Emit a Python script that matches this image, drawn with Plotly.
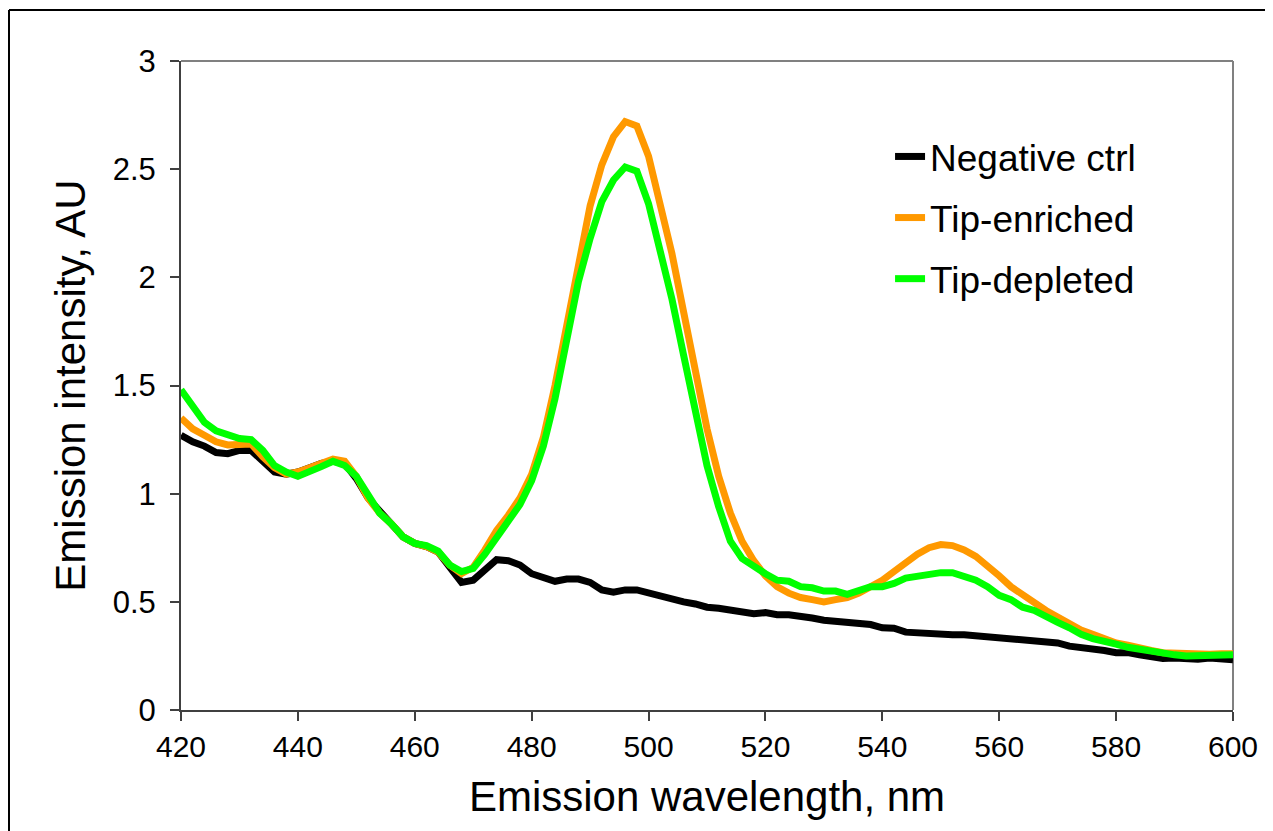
import plotly.graph_objects as go

wavelength = list(range(420, 601, 2))

negative_ctrl = [1.27, 1.24, 1.22, 1.19, 1.185, 1.20, 1.20, 1.15, 1.10, 1.09,
                 1.10, 1.12, 1.14, 1.15, 1.14, 1.07, 0.98, 0.92, 0.86, 0.80,
                 0.77, 0.755, 0.73, 0.66, 0.59, 0.60, 0.65, 0.695, 0.69, 0.67,
                 0.63, 0.61, 0.595, 0.605, 0.605, 0.59, 0.555, 0.545, 0.555, 0.555,
                 0.54, 0.525, 0.515, 0.50, 0.49, 0.475, 0.47, 0.46, 0.455, 0.445,
                 0.45, 0.44, 0.44, 0.435, 0.425, 0.415, 0.41, 0.405, 0.40, 0.395,
                 0.38, 0.378, 0.36, 0.355, 0.355, 0.352, 0.348, 0.348, 0.343, 0.338,
                 0.333, 0.332, 0.33, 0.32, 0.315, 0.31, 0.295, 0.29, 0.285, 0.275,
                 0.265, 0.265, 0.255, 0.245, 0.238, 0.24, 0.235, 0.235, 0.24, 0.24,
                 0.232]

tip_enriched = [1.35, 1.30, 1.27, 1.24, 1.225, 1.225, 1.23, 1.17, 1.12, 1.09,
                1.10, 1.12, 1.14, 1.16, 1.15, 1.08, 0.98, 0.91, 0.86, 0.80,
                0.77, 0.755, 0.73, 0.67, 0.63, 0.66, 0.74, 0.83, 0.90, 0.98,
                1.09, 1.26, 1.50, 1.79, 2.08, 2.33, 2.52, 2.65, 2.72, 2.70,
                2.56, 2.35, 2.11, 1.84, 1.56, 1.30, 1.08, 0.91, 0.78, 0.69,
                0.62, 0.57, 0.54, 0.52, 0.51, 0.50, 0.51, 0.52, 0.54, 0.57,
                0.60, 0.64, 0.68, 0.72, 0.75, 0.765, 0.76, 0.74, 0.71, 0.67,
                0.62, 0.57, 0.53, 0.49, 0.46, 0.43, 0.40, 0.37, 0.35, 0.33,
                0.31, 0.30, 0.285, 0.275, 0.265, 0.262, 0.26, 0.26, 0.258, 0.26,
                0.26]

tip_depleted = [1.48, 1.41, 1.33, 1.29, 1.27, 1.255, 1.25, 1.20, 1.13, 1.10,
                1.08, 1.10, 1.125, 1.15, 1.13, 1.08, 0.99, 0.91, 0.86, 0.80,
                0.77, 0.76, 0.735, 0.67, 0.64, 0.655, 0.72, 0.80, 0.87, 0.95,
                1.06, 1.22, 1.44, 1.71, 1.98, 2.18, 2.35, 2.45, 2.51, 2.49,
                2.34, 2.12, 1.90, 1.64, 1.37, 1.13, 0.94, 0.78, 0.70, 0.66,
                0.63, 0.60, 0.595, 0.57, 0.565, 0.55, 0.55, 0.535, 0.555, 0.57,
                0.57, 0.585, 0.61, 0.62, 0.63, 0.635, 0.635, 0.62, 0.60, 0.57,
                0.53, 0.51, 0.475, 0.46, 0.43, 0.405, 0.38, 0.35, 0.33, 0.32,
                0.305, 0.29, 0.28, 0.27, 0.26, 0.255, 0.25, 0.252, 0.255, 0.255,
                0.255]

x_ticks = list(range(420, 601, 20))
y_ticks = [0, 0.5, 1, 1.5, 2, 2.5, 3]
y_tick_labels = ["0", "0.5", "1", "1.5", "2", "2.5", "3"]

series = [
    ("Negative ctrl", negative_ctrl, "#000000"),
    ("Tip-enriched", tip_enriched, "#FF9900"),
    ("Tip-depleted", tip_depleted, "#00FF00"),
]

fig = go.Figure()
for i, (name, vals, color) in enumerate(series):
    fig.add_trace(go.Scatter(
        x=wavelength, y=vals, mode="lines", name=name,
        line=dict(color=color, width=7), legendgroup=f"g{i}",
    ))

font_family = "Liberation Sans, Arial, sans-serif"
axis_color = "#404040"

fig.update_layout(
    width=1265, height=823,
    margin=dict(l=173, r=40, t=53, b=121),
    paper_bgcolor="white", plot_bgcolor="white",
    font=dict(family=font_family, color="black"),
    showlegend=True,
    legend=dict(
        x=0.674, y=0.90, xanchor="left", yanchor="top",
        font=dict(size=37, family=font_family, color="black"),
        bgcolor="rgba(0,0,0,0)", borderwidth=0,
        tracegroupgap=10,
    ),
    xaxis=dict(
        range=[420, 600], tickvals=x_ticks,
        ticks="outside", ticklen=9, tickwidth=1.5, tickcolor=axis_color,
        showline=True, linecolor=axis_color, linewidth=2,
        showgrid=False, zeroline=False,
        tickfont=dict(size=30, family=font_family, color="black"),
        title=dict(text="Emission wavelength, nm", font=dict(size=42, family=font_family, color="black"), standoff=20),
    ),
    yaxis=dict(
        range=[0, 3], tickvals=y_ticks, ticktext=y_tick_labels,
        ticks="outside", ticklen=9, tickwidth=1.5, tickcolor=axis_color,
        showline=True, linecolor=axis_color, linewidth=2,
        showgrid=False, zeroline=False,
        ticklabelstandoff=8,
        tickfont=dict(size=31, family=font_family, color="black"),
        title=dict(text="Emission intensity, AU", font=dict(size=42, family=font_family, color="black"), standoff=14),
    ),
    shapes=[
        dict(type="line", xref="paper", yref="paper", x0=0, x1=1, y0=1, y1=1,
             line=dict(color="#808080", width=2), layer="below"),
        dict(type="line", xref="paper", yref="paper", x0=1, x1=1, y0=0, y1=1,
             line=dict(color="#808080", width=2), layer="below"),
        dict(type="line", xref="paper", yref="paper", x0=-0.1635, x1=1.2, y0=1.0786, y1=1.0786,
             line=dict(color="black", width=2)),
        dict(type="line", xref="paper", yref="paper", x0=-0.1635, x1=-0.1635, y0=-0.3, y1=1.0786,
             line=dict(color="black", width=2)),
    ],
)

fig.write_html("out.html")
